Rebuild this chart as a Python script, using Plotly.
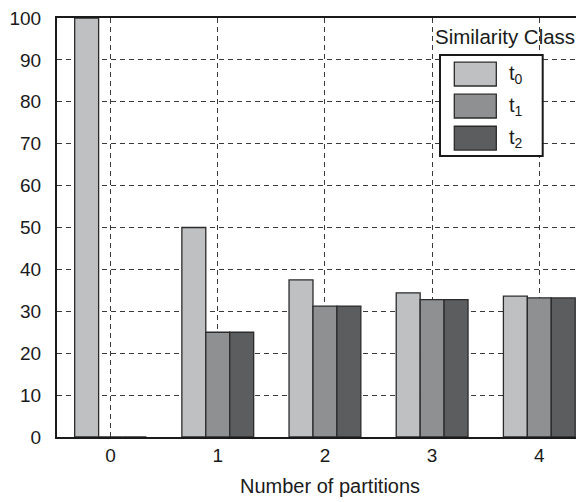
import plotly.graph_objects as go

# ---- data ----
categories = ["0", "1", "2", "3", "4"]
series_names = ["t<sub>0</sub>", "t<sub>1</sub>", "t<sub>2</sub>"]
t0_values = [100, 50, 37.5, 34.4, 33.6]
t1_values = [0, 25, 31.25, 32.8, 33.2]
t2_values = [0, 25, 31.25, 32.8, 33.2]
y_tick_values = [0, 10, 20, 30, 40, 50, 60, 70, 80, 90, 100]
x_title = "Number of partitions"
legend_title = "Similarity Class"

# ---- style ----
colors = ["#bfc0c2", "#8f9092", "#5c5d5f"]
OFF = 8  # default page body margin
W, H = 584 - OFF, 502 - OFF
ML, MR, MT, MB = 57 - OFF, 0, 15 - OFF, 65
PW, PH = W - ML - MR, H - MT - MB
FONT = "Liberation Sans, Arial, Helvetica, sans-serif"
INK = "#1a1a1a"
GRID = "#3a3a3a"


def px_x(p):
    return (p - OFF - ML) / PW


def px_y(p):
    return 1 - (p - OFF - MT) / PH


fig = go.Figure()
for name, vals, col in zip(series_names, [t0_values, t1_values, t2_values], colors):
    fig.add_bar(x=categories, y=vals, name=name, showlegend=False,
                marker=dict(color=col, line=dict(color="#2b2b2b", width=1.3)))

fig.update_layout(
    width=W, height=H,
    margin=dict(l=ML, r=MR, t=MT, b=MB),
    barmode="group", bargap=0.33, bargroupgap=0,
    plot_bgcolor="white", paper_bgcolor="white",
    font=dict(family=FONT, size=19, color=INK),
)
fig.update_xaxes(
    type="category", range=[-0.5, 4.417],
    showgrid=True, gridcolor=GRID, gridwidth=1, griddash="5px,4px",
    showline=True, linecolor=INK, linewidth=2, mirror=True,
    ticks="", ticklabelstandoff=0,
)
fig.update_yaxes(
    range=[0, 100], tickvals=y_tick_values,
    showgrid=True, gridcolor=GRID, gridwidth=1, griddash="5px,4px",
    showline=True, linecolor=INK, linewidth=2, mirror=False,
    zeroline=False, ticks="", ticklabelstandoff=10,
    ticklabeloverflow="allow",
)

# x-axis title
fig.add_annotation(text=x_title, xref="paper", yref="paper",
                   x=px_x(330), y=px_y(486), xanchor="center", yanchor="middle",
                   showarrow=False, font=dict(size=20, family=FONT, color=INK))

# legend (drawn manually to match the large swatches)
fig.add_annotation(text=legend_title, xref="paper", yref="paper",
                   x=px_x(505), y=px_y(34), xanchor="center", yanchor="middle",
                   showarrow=False, font=dict(size=20.5, family=FONT, color=INK))
fig.add_shape(type="rect", xref="paper", yref="paper",
              x0=px_x(440), x1=px_x(542.7), y0=px_y(154), y1=px_y(52.3),
              line=dict(color=INK, width=2), fillcolor="white", layer="above")
row_centers = [71.5, 103.7, 136]
for name, col, rc in zip(series_names, colors, row_centers):
    fig.add_shape(type="rect", xref="paper", yref="paper",
                  x0=px_x(454.3), x1=px_x(496.3), y0=px_y(rc + 12), y1=px_y(rc - 12),
                  line=dict(color="#2b2b2b", width=1.3), fillcolor=col, layer="above")
    fig.add_annotation(text=name, xref="paper", yref="paper",
                       x=px_x(507), y=px_y(rc), xanchor="left", yanchor="middle",
                       showarrow=False, font=dict(size=20, family=FONT, color=INK))

fig.write_html("out.html")
